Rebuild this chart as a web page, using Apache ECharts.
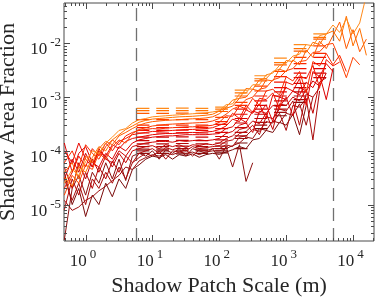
<!DOCTYPE html>
<html><head><meta charset="utf-8">
<script src="https://cdn.jsdelivr.net/npm/echarts@6/dist/echarts.min.js"></script>
<style>html,body{margin:0;padding:0;background:#fff}#c{width:382px;height:302px}</style>
</head><body><div id="c"></div><script>
// Shadow patch scale (m), common grid of the raw curves
const patchScale = [0.48,0.63,0.79,1,1.26,1.58,2,2.51,3.16,3.98,5.01,6.31,7.94,10,12.6,15.8,20,25.1,31.6,39.8,50.1,63.1,79.4,100,126,158,200,251,316,398,501,631,794,1000,1259,1585,1995,2512,3162,3981,5012,6310,7943,10000,12589,15849,19953];

// Shadow area fraction, one curve per run (dark red -> orange)
const line0 = [4.0e-5,1.0e-5,2.0e-5,6.0e-6,1.5e-5,1.0e-5,2.5e-5,1.4e-5,3.0e-5,2.0e-5,4.5e-5,5.5e-5,7.0e-5,8.0e-5,7.5e-5,8.5e-5,7.0e-5,8.5e-5,8.0e-5,8.8e-5,7.6e-5,8.5e-5,9.0e-5,8.6e-5,9.5e-5,1.05e-4,1.2e-4,1.1e-4,1.6e-4,1.7e-4,2.4e-4,2.2e-4,3.4e-4,3.0e-4,4.8e-4,2.0e-4,7.0e-4,null,null,null,null,null,null,null,null,null,null];
const line1 = [2.2e-6,2.0e-5,3.5e-5,1.5e-5,4.0e-5,2.5e-5,6.0e-5,3.0e-5,7.0e-5,2.8e-5,8.0e-5,9.0e-5,8.0e-5,1.0e-4,7.0e-5,1.05e-4,9.0e-5,1.1e-4,8.0e-5,1.1e-4,1.0e-4,9.0e-5,1.1e-4,7.0e-5,1.2e-4,5.0e-5,1.3e-4,2.7e-5,6.0e-5,null,null,null,null,null,null,null,null,null,null,null,null,null,null,null,null,null,null];
const line2 = [1.2e-5,7.8e-6,9.0e-6,1.2e-5,1.4e-5,1.8e-5,2.2e-5,2.8e-5,3.5e-5,5.0e-5,4.5e-5,6.5e-5,7.5e-5,8.5e-5,8.0e-5,9.0e-5,8.5e-5,9.5e-5,9.0e-5,9.5e-5,8.5e-5,9.5e-5,1.0e-4,1.0e-4,1.1e-4,1.25e-4,1.4e-4,1.8e-4,1.7e-4,2.6e-4,2.4e-4,3.6e-4,3.3e-4,5.0e-4,4.6e-4,7.5e-4,3.0e-4,1.0e-3,null,null,null,null,null,null,null,null,null];
const line3 = [3.0e-5,1.2e-5,2.5e-5,1.0e-5,3.0e-5,2.0e-5,4.0e-5,2.5e-5,5.0e-5,3.0e-5,6.0e-5,7.5e-5,9.0e-5,8.0e-5,1.0e-4,7.0e-5,1.0e-4,9.5e-5,1.05e-4,8.0e-5,1.05e-4,1.0e-4,1.1e-4,1.1e-4,1.3e-4,1.2e-4,1.8e-4,1.9e-4,2.5e-4,2.3e-4,3.5e-4,3.3e-4,5.0e-4,2.4e-4,7.0e-4,6.5e-4,9.5e-4,1.6e-4,1.3e-3,null,null,null,null,null,null,null,null];
const line4 = [8.0e-6,3.0e-5,1.5e-5,4.0e-5,2.0e-5,5.0e-5,3.0e-5,6.5e-5,4.0e-5,8.0e-5,6.0e-5,9.0e-5,1.0e-4,1.1e-4,9.0e-5,1.15e-4,1.05e-4,1.15e-4,1.0e-4,1.2e-4,1.1e-4,1.15e-4,1.2e-4,1.25e-4,1.5e-4,1.6e-4,2.1e-4,2.3e-4,3.0e-4,2.0e-4,4.3e-4,4.0e-4,6.0e-4,5.5e-4,8.5e-4,3.0e-4,1.15e-3,1.0e-3,1.5e-3,null,null,null,null,null,null,null,null];
const line5 = [5.0e-5,2.0e-5,6.0e-5,3.0e-5,7.0e-5,4.0e-5,8.0e-5,5.0e-5,9.0e-5,6.0e-5,1.0e-4,1.1e-4,1.2e-4,1.25e-4,1.1e-4,1.3e-4,1.2e-4,1.3e-4,1.15e-4,1.3e-4,1.25e-4,1.35e-4,1.3e-4,1.4e-4,1.7e-4,1.9e-4,2.5e-4,2.7e-4,3.6e-4,3.2e-4,5.0e-4,2.5e-4,7.5e-4,7.0e-4,1.0e-3,8.5e-4,1.4e-3,5.0e-4,1.9e-3,2.3e-3,null,null,null,null,null,null,null];
const line6 = [3.0e-5,7.0e-5,4.0e-5,9.0e-5,5.0e-5,1.1e-4,7.0e-5,6.0e-5,1.0e-4,8.0e-5,1.2e-4,1.3e-4,1.4e-4,1.45e-4,1.5e-4,1.5e-4,1.45e-4,1.55e-4,1.5e-4,1.55e-4,1.6e-4,1.55e-4,1.6e-4,1.7e-4,2.1e-4,2.3e-4,3.0e-4,3.3e-4,2.2e-4,5.5e-4,5.0e-4,7.0e-4,6.5e-4,1.0e-3,4.5e-4,1.5e-3,1.3e-3,2.0e-3,1.6e-3,2.8e-3,null,null,null,null,null,null,null];
const line7 = [1.4e-4,4.0e-5,9.0e-5,1.2e-4,6.0e-5,5.0e-5,9.0e-5,7.0e-5,1.2e-4,1.0e-4,1.4e-4,1.6e-4,1.7e-4,1.8e-4,1.85e-4,1.9e-4,1.9e-4,1.95e-4,2.0e-4,2.0e-4,2.0e-4,2.0e-4,2.05e-4,2.1e-4,2.6e-4,2.8e-4,4.0e-4,3.4e-4,5.5e-4,5.0e-4,7.2e-4,3.5e-4,1.0e-3,9.0e-4,1.3e-3,1.1e-3,1.9e-3,1.5e-3,2.6e-3,9.0e-4,3.4e-3,null,null,null,null,null,null];
const line8 = [1.0e-4,6.0e-5,1.4e-4,7.0e-5,5.0e-5,1.0e-4,8.0e-5,1.3e-4,1.1e-4,1.5e-4,1.7e-4,1.8e-4,1.9e-4,2.0e-4,2.05e-4,2.1e-4,2.1e-4,2.15e-4,2.2e-4,2.2e-4,2.2e-4,2.25e-4,2.3e-4,2.5e-4,2.9e-4,3.9e-4,3.5e-4,5.8e-4,5.0e-4,7.5e-4,4.0e-4,1.1e-3,1.0e-3,1.5e-3,1.3e-3,2.2e-3,7.0e-4,3.0e-3,2.4e-3,4.2e-3,3.0e-3,null,null,null,null,null,null];
const line9 = [2.0e-5,4.0e-5,8.0e-5,5.0e-5,1.1e-4,8.0e-5,1.4e-4,1.0e-4,1.5e-4,1.7e-4,2.0e-4,2.1e-4,2.2e-4,2.3e-4,2.3e-4,2.35e-4,2.4e-4,2.45e-4,2.5e-4,2.5e-4,2.55e-4,2.6e-4,2.7e-4,3.0e-4,3.3e-4,5.0e-4,4.0e-4,7.0e-4,5.2e-4,9.5e-4,9.0e-4,1.2e-3,6.0e-4,1.9e-3,1.7e-3,2.5e-3,2.2e-3,3.9e-3,1.5e-3,5.0e-3,3.8e-3,4.5e-3,null,null,null,null,null];
const line10 = [6.0e-5,1.0e-4,5.0e-5,1.3e-4,9.0e-5,7.0e-5,1.2e-4,1.6e-4,1.3e-4,1.9e-4,2.2e-4,2.4e-4,2.5e-4,2.6e-4,2.55e-4,2.65e-4,2.7e-4,2.75e-4,2.8e-4,2.8e-4,2.85e-4,2.9e-4,3.0e-4,3.4e-4,4.5e-4,4.4e-4,6.8e-4,6.0e-4,9.5e-4,7.0e-4,1.3e-3,1.4e-3,1.1e-3,2.4e-3,2.0e-3,3.0e-3,1.2e-3,4.6e-3,3.8e-3,6.5e-3,4.0e-3,6.0e-3,3.0e-3,null,null,null,null];
const line11 = [1.5e-5,3.5e-5,2.5e-5,5.5e-5,4.5e-5,9.0e-5,7.0e-5,1.2e-4,1.6e-4,1.4e-4,2.1e-4,2.5e-4,2.7e-4,2.9e-4,3.0e-4,3.1e-4,3.15e-4,3.2e-4,3.25e-4,3.3e-4,3.35e-4,3.4e-4,3.6e-4,4.0e-4,4.8e-4,6.0e-4,6.8e-4,9.0e-4,1.0e-3,1.4e-3,1.5e-3,2.1e-3,2.3e-3,3.1e-3,3.4e-3,4.6e-3,4.8e-3,6.8e-3,7.0e-3,9.5e-3,1.0e-2,5.0e-3,2.3e-3,5.5e-3,4.0e-3,null,null];
const line12 = [4.0e-5,6.0e-5,3.0e-5,8.0e-5,6.0e-5,1.1e-4,1.5e-4,1.3e-4,1.9e-4,2.2e-4,2.6e-4,3.0e-4,3.3e-4,3.5e-4,3.6e-4,3.7e-4,3.75e-4,3.8e-4,3.9e-4,3.95e-4,4.0e-4,4.1e-4,4.3e-4,4.9e-4,6.2e-4,6.8e-4,9.5e-4,1.0e-3,1.4e-3,1.3e-3,2.1e-3,2.0e-3,3.3e-3,3.0e-3,4.9e-3,4.0e-3,7.5e-3,5.5e-3,1.1e-2,8.0e-3,1.4e-2,2.5e-2,8.0e-3,1.8e-2,7.0e-3,1.2e-2,null];
const line13 = [3.2e-5,2.2e-5,5.0e-5,4.0e-5,7.5e-5,1.2e-4,1.0e-4,1.6e-4,2.0e-4,2.5e-4,2.9e-4,3.4e-4,3.7e-4,3.9e-4,4.0e-4,4.1e-4,4.2e-4,4.3e-4,4.35e-4,4.4e-4,4.5e-4,4.6e-4,4.8e-4,5.5e-4,6.5e-4,8.8e-4,9.5e-4,1.45e-3,1.4e-3,2.1e-3,2.2e-3,3.0e-3,3.3e-3,4.8e-3,4.6e-3,7.2e-3,6.8e-3,1.05e-2,9.5e-3,1.5e-2,1.7e-2,1.1e-2,3.2e-2,9.0e-3,1.9e-2,6.0e-3,null];
const line14 = [2.5e-5,4.5e-5,3.5e-5,6.3e-5,1.0e-4,8.9e-5,1.4e-4,1.8e-4,2.4e-4,2.6e-4,3.3e-4,3.8e-4,4.0e-4,4.3e-4,4.4e-4,4.5e-4,4.6e-4,4.7e-4,4.8e-4,4.9e-4,5.0e-4,5.1e-4,5.3e-4,5.6e-4,7.2e-4,7.5e-4,1.15e-3,1.2e-3,1.7e-3,1.7e-3,2.6e-3,2.8e-3,3.9e-3,4.3e-3,5.8e-3,6.3e-3,9.5e-3,9.0e-3,1.4e-2,1.5e-2,2.2e-2,1.6e-2,2.9e-2,1.5e-2,2.4e-2,8.0e-2,null];

// Log-spaced bins (m) and bin-averaged area fraction per run
const binLo = [5.8, 11.4, 22.4, 44.1, 86.7, 170, 335, 659, 1296, 2548];
const binHi = [9.0, 17.7, 34.8, 68.4, 134.6, 264, 520, 1023, 2011, 3954];
const bars0 = [9.0e-5,9.0e-5,8.8e-5,9.0e-5,9.2e-5,1.4e-4,2.6e-4,4.5e-4,8.0e-4,null];
const bars1 = [1.0e-4,1.0e-4,1.0e-4,1.0e-4,1.0e-4,1.1e-4,null,null,null,null];
const bars2 = [1.08e-4,1.08e-4,1.1e-4,1.08e-4,1.1e-4,1.7e-4,3.0e-4,5.2e-4,9.0e-4,null];
const bars3 = [1.2e-4,1.2e-4,1.22e-4,1.2e-4,1.22e-4,1.9e-4,3.4e-4,6.0e-4,1.05e-3,null];
const bars4 = [1.35e-4,1.35e-4,1.37e-4,1.35e-4,1.4e-4,2.2e-4,4.0e-4,7.0e-4,1.25e-3,null];
const bars5 = [1.55e-4,1.55e-4,1.57e-4,1.55e-4,1.6e-4,2.7e-4,4.8e-4,8.5e-4,1.5e-3,2.3e-3];
const bars6 = [1.8e-4,1.8e-4,1.82e-4,1.8e-4,1.85e-4,3.3e-4,6.0e-4,1.05e-3,1.8e-3,2.8e-3];
const bars7 = [2.15e-4,2.15e-4,2.17e-4,2.15e-4,2.2e-4,4.0e-4,7.0e-4,1.25e-3,2.3e-3,3.4e-3];
const bars8 = [2.4e-4,2.4e-4,2.42e-4,2.4e-4,2.6e-4,4.8e-4,8.5e-4,1.5e-3,2.8e-3,4.2e-3];
const bars9 = [2.7e-4,2.7e-4,2.72e-4,2.7e-4,3.1e-4,6.0e-4,1.05e-3,1.9e-3,3.4e-3,5.5e-3];
const bars10 = [3.0e-4,3.0e-4,3.02e-4,3.0e-4,3.5e-4,7.0e-4,1.3e-3,2.4e-3,4.2e-3,6.5e-3];
const bars11 = [3.8e-4,3.8e-4,3.82e-4,3.8e-4,4.2e-4,8.0e-4,1.6e-3,3.0e-3,5.5e-3,9.0e-3];
const bars12 = [5.0e-4,5.0e-4,5.02e-4,5.0e-4,5.4e-4,1.05e-3,2.0e-3,4.0e-3,7.2e-3,1.2e-2];
const bars13 = [5.6e-4,5.6e-4,5.62e-4,5.6e-4,6.0e-4,1.2e-3,2.2e-3,4.4e-3,8.0e-3,1.3e-2];
const bars14 = [6.2e-4,6.2e-4,6.22e-4,6.2e-4,6.5e-4,1.35e-3,2.5e-3,5.3e-3,9.5e-3,1.5e-2];

const cutoffs = [5.8, 5000];
const xTickExps = [0, 1, 2, 3, 4];
const yTickExps = [-5, -4, -3, -2];

const lines = [line0,line1,line2,line3,line4,line5,line6,line7,line8,line9,line10,line11,line12,line13,line14];
const bars = [bars0,bars1,bars2,bars3,bars4,bars5,bars6,bars7,bars8,bars9,bars10,bars11,bars12,bars13,bars14];
const colors = ['#7a0a0a','#8c1010','#9a0d0d','#a80a0a','#b50808','#c30505','#d00303','#dc0000','#e80600','#f21400','#fa2800','#ff4000','#ff5a00','#ff7000','#ff8a1a'];

const X_MIN = 0.475, X_MAX = 20600, Y_MIN = 2.1e-6, Y_MAX = 0.0565;
const FONT = 'Liberation Serif';
const TXT = '#262626';
const AX = '#4a4a4a';

function expOf(v){ const e = Math.log10(v); const r = Math.round(e); return Math.abs(e - r) < 1e-6 ? r : null; }
function fmt(list){ return function(v){ const r = expOf(v); if (r === null || list.indexOf(r) < 0) return ''; return '{b|10}{s|' + r + '}'; }; }
const rich = { b:{fontFamily:FONT,fontSize:17,color:TXT,verticalAlign:'bottom',lineHeight:22}, s:{fontFamily:FONT,fontSize:13,color:TXT,verticalAlign:'top',lineHeight:11,padding:[0,0,0,3]} };

const xTickData = [], yTickData = [];
for (let e = -1; e <= 4; e++) for (let m = 1; m <= 9; m++) { const v = m * Math.pow(10, e); if (v > X_MIN && v < X_MAX) xTickData.push([v, Y_MIN, m === 1 ? 6 : 3]); }
for (let e = -6; e <= -2; e++) for (let m = 1; m <= 9; m++) { const v = m * Math.pow(10, e); if (v > Y_MIN && v < Y_MAX) yTickData.push([X_MIN, v, m === 1 ? 6 : 3]); }
function px(a){ return Math.round(a) + 0.5; }

const series = [];
lines.forEach((arr, i) => {
  const d = [];
  arr.forEach((v, k) => { if (v !== null) d.push([patchScale[k], v]); });
  series.push({ type:'line', data:d, symbol:'none', showSymbol:false, lineStyle:{color:colors[i], width:1}, itemStyle:{color:colors[i]}, z:2+i, silent:true });
  const b = [];
  bars[i].forEach((v, j) => { if (v !== null) { b.push([binLo[j], v]); b.push([binHi[j], v]); b.push([binHi[j], '-']); } });
  series.push({ type:'line', data:b, symbol:'none', showSymbol:false, connectNulls:false, lineStyle:{color:colors[i], width:1.2}, z:2+i, silent:true });
});
series.push({ type:'line', data:[], z:40, silent:true,
  markLine:{ silent:true, symbol:['none','none'], animation:false, label:{show:false},
    lineStyle:{color:'#707070', width:1.3, type:[13,7]}, emphasis:{disabled:true},
    data: cutoffs.map(v => ({xAxis:v})) } });
series.push({ type:'custom', data:xTickData, encode:{x:0,y:1}, z:50, silent:true, clip:false,
  renderItem:(p, api) => { const v = api.value(0), len = api.value(2); const b = api.coord([v, Y_MIN]), t = api.coord([v, Y_MAX]); const x = px(b[0]);
    return {type:'group', children:[
      {type:'line', shape:{x1:x,y1:b[1],x2:x,y2:b[1]-len}, style:{stroke:AX,lineWidth:1}},
      {type:'line', shape:{x1:x,y1:t[1],x2:x,y2:t[1]+len}, style:{stroke:AX,lineWidth:1}} ]}; } });
series.push({ type:'custom', data:yTickData, encode:{x:0,y:1}, z:50, silent:true, clip:false,
  renderItem:(p, api) => { const v = api.value(1), len = api.value(2); const l = api.coord([X_MIN, v]), r = api.coord([X_MAX, v]); const y = px(l[1]);
    return {type:'group', children:[
      {type:'line', shape:{x1:l[0],y1:y,x2:l[0]+len,y2:y}, style:{stroke:AX,lineWidth:1}},
      {type:'line', shape:{x1:r[0],y1:y,x2:r[0]-len,y2:y}, style:{stroke:AX,lineWidth:1}} ]}; } });

const chart = echarts.init(document.getElementById('c'), null, {renderer:'canvas'});
chart.setOption({
  animation:false,
  backgroundColor:'#fff',
  grid:{left:64, right:8, top:3, bottom:61, containLabel:false, outerBoundsMode:'none', show:true, borderColor:AX, borderWidth:1, backgroundColor:'transparent'},
  xAxis:{type:'log', logBase:10, min:X_MIN, max:X_MAX,
    name:'Shadow Patch Scale (m)', nameLocation:'middle', nameGap:30,
    nameTextStyle:{fontFamily:FONT, fontSize:22, color:TXT},
    axisLine:{show:false}, axisTick:{show:false}, splitLine:{show:false}, minorTick:{show:false},
    axisLabel:{formatter:fmt(xTickExps), rich:rich, margin:7, padding:[0,5,0,0], showMinLabel:true, showMaxLabel:true}},
  yAxis:{type:'log', logBase:10, min:Y_MIN, max:Y_MAX,
    name:'Shadow Area Fraction', nameLocation:'middle', nameGap:40, nameRotate:90,
    nameTextStyle:{fontFamily:FONT, fontSize:22, color:TXT},
    axisLine:{show:false}, axisTick:{show:false}, splitLine:{show:false}, minorTick:{show:false},
    axisLabel:{formatter:fmt(yTickExps), rich:rich, margin:3, padding:[8,0,0,0]}},
  series:series
});
</script></body></html>
